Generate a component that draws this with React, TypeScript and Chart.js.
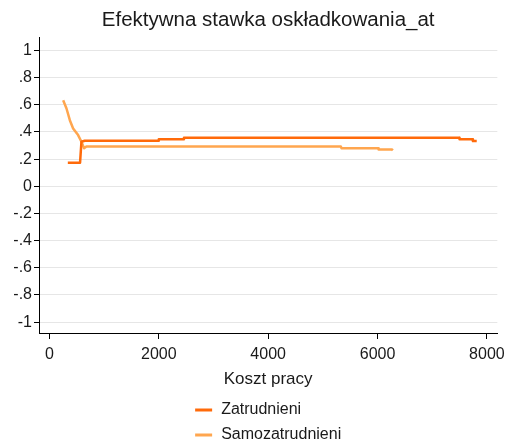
import React, { useEffect, useRef } from "react";
import { Chart, registerables } from "chart.js";

Chart.register(...registerables);

const titleText = "Efektywna stawka oskładkowania_at";
const xAxisTitle = "Koszt pracy";
const seriesNames = ["Zatrudnieni", "Samozatrudnieni"];
const seriesColors = ["#ff6a0a", "#ffa64f"];

const xTicks = [0, 2000, 4000, 6000, 8000];
const yTicks = [-1, -0.8, -0.6, -0.4, -0.2, 0, 0.2, 0.4, 0.6, 0.8, 1];

const zatrX = [336, 560, 585, 645, 1990, 2000, 2450, 2460, 7494, 7500, 7736, 7745, 7814];
const zatrY = [0.174, 0.174, 0.328, 0.335, 0.335, 0.347, 0.347, 0.357, 0.357, 0.346, 0.346, 0.333, 0.333];

const samoX = [251, 312, 373, 433, 524, 585, 633, 676, 5330, 5340, 6010, 6020, 6263, 6280];
const samoY = [0.634, 0.573, 0.487, 0.426, 0.377, 0.328, 0.28, 0.293, 0.293, 0.281, 0.281, 0.272, 0.272, 0.265];

const FONT = '"Liberation Sans", Arial, sans-serif';
const TEXT = "#1a1a1a";

const fmtY = (v: number) => {
  const r = Math.round(v * 10) / 10;
  if (r === 0) return "0";
  return r.toString().replace(/^(-?)0\./, "$1.");
};

const legendPlugin = {
  id: "stackedLegend",
  afterDraw(chart: any) {
    const ctx = chart.ctx;
    const area = chart.chartArea;
    const xs = chart.scales.x;
    ctx.save();
    ctx.font = `16px ${FONT}`;
    const sampleW = 17;
    const gap = 9;
    const widths = chart.data.datasets.map((d: any) => ctx.measureText(d.label).width);
    const blockW = sampleW + gap + Math.max(...widths);
    const left = (area.left + area.right) / 2 - blockW / 2;
    chart.data.datasets.forEach((d: any, i: number) => {
      const y = xs.bottom + 20 + i * 25;
      ctx.strokeStyle = d.borderColor;
      ctx.lineWidth = 3;
      ctx.beginPath();
      ctx.moveTo(left, y);
      ctx.lineTo(left + sampleW, y);
      ctx.stroke();
      ctx.fillStyle = TEXT;
      ctx.textBaseline = "middle";
      ctx.textAlign = "left";
      ctx.fillText(d.label, left + sampleW + gap, y);
    });
    ctx.restore();
  },
};

const bgPlugin = {
  id: "whiteBg",
  beforeDraw(chart: any) {
    const ctx = chart.ctx;
    ctx.save();
    ctx.fillStyle = "#ffffff";
    ctx.fillRect(0, 0, chart.width, chart.height);
    ctx.restore();
  },
};

export default function App() {
  const ref = useRef<HTMLCanvasElement | null>(null);

  useEffect(() => {
    if (!ref.current) return;
    const chart = new Chart(ref.current, {
      type: "line",
      data: {
        datasets: [
          {
            label: seriesNames[0],
            data: zatrX.map((x, i) => ({ x, y: zatrY[i] })),
            borderColor: seriesColors[0],
            backgroundColor: seriesColors[0],
            borderWidth: 2.5,
            borderJoinStyle: "round",
            borderCapStyle: "butt",
            pointRadius: 0,
            tension: 0,
            fill: false,
          },
          {
            label: seriesNames[1],
            data: samoX.map((x, i) => ({ x, y: samoY[i] })),
            borderColor: seriesColors[1],
            backgroundColor: seriesColors[1],
            borderWidth: 2.5,
            borderJoinStyle: "round",
            borderCapStyle: "butt",
            pointRadius: 0,
            tension: 0,
            fill: false,
          },
        ],
      },
      options: {
        responsive: false,
        animation: false,
        devicePixelRatio: 1,
        layout: { padding: { left: 0, right: 11, top: 0, bottom: 54 } },
        plugins: {
          legend: { display: false },
          tooltip: { enabled: false },
          title: {
            display: true,
            text: titleText,
            fullSize: false,
            color: TEXT,
            font: { family: FONT, size: 20.5, weight: "normal" },
            padding: { top: 8, bottom: 5 },
          },
        },
        scales: {
          x: {
            type: "linear",
            min: -191,
            max: 8191,
            afterBuildTicks: (s: any) => {
              s.ticks = xTicks.map((v) => ({ value: v }));
            },
            afterFit: (s: any) => {
              s.height = 57;
            },
            ticks: {
              autoSkip: false,
              maxRotation: 0,
              padding: 6,
              color: TEXT,
              font: { family: FONT, size: 16 },
              callback: (v: any) => String(v),
            },
            grid: {
              drawOnChartArea: false,
              drawTicks: true,
              tickLength: 6,
              tickColor: "#000",
              tickWidth: 1,
            },
            border: { display: true, color: "#000", width: 1 },
            title: {
              display: true,
              text: xAxisTitle,
              color: TEXT,
              font: { family: FONT, size: 17 },
              padding: { top: 0, bottom: 0 },
            },
          },
          y: {
            type: "linear",
            min: -1.08,
            max: 1.095,
            afterBuildTicks: (s: any) => {
              s.ticks = yTicks.map((v) => ({ value: v }));
            },
            afterFit: (s: any) => {
              s.width = 39;
            },
            ticks: {
              autoSkip: false,
              padding: 2,
              color: TEXT,
              font: { family: FONT, size: 16 },
              callback: (v: any) => fmtY(Number(v)),
            },
            grid: {
              display: true,
              drawOnChartArea: true,
              color: "#e6e6e6",
              lineWidth: 1,
              drawTicks: true,
              tickLength: 5,
              tickColor: "#000",
              tickWidth: 1,
            },
            border: { display: true, color: "#000", width: 1 },
          },
        },
      },
      plugins: [bgPlugin, legendPlugin],
    } as any);
    return () => chart.destroy();
  }, []);

  return (
    <div style={{ position: "fixed", left: 0, top: 0, width: 511, height: 444, background: "#fff" }}>
      <canvas ref={ref} width={511} height={444} style={{ display: "block" }} />
    </div>
  );
}
